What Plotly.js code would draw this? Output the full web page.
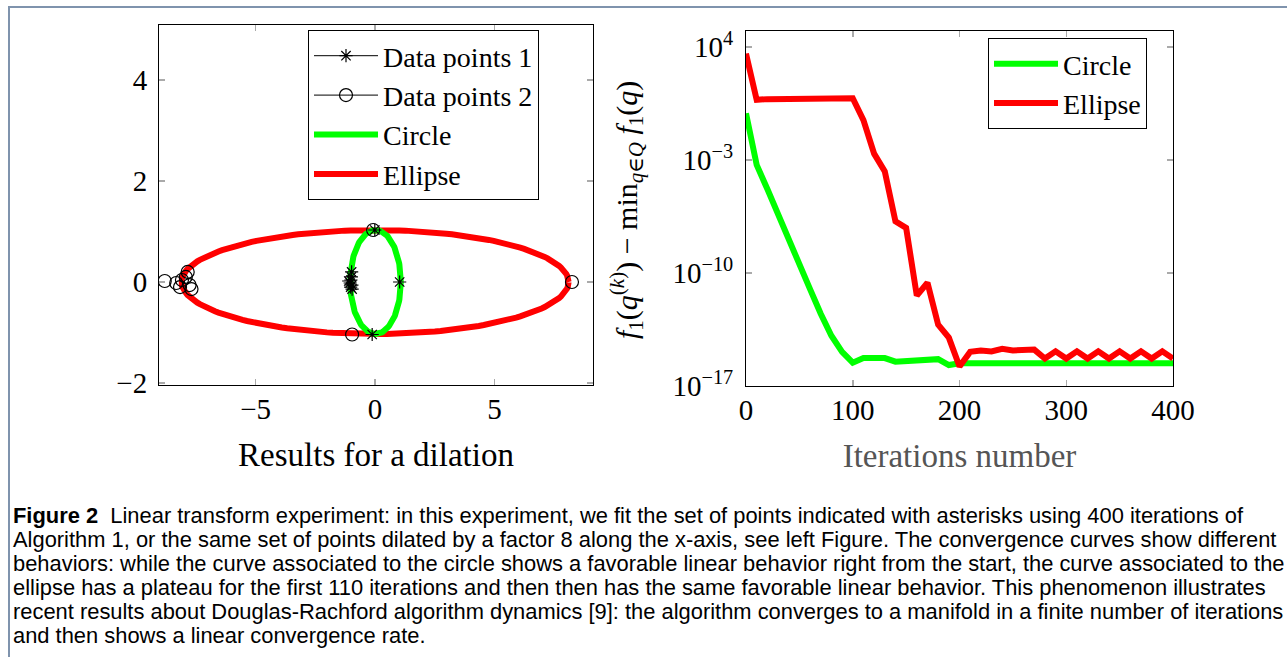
<!DOCTYPE html>
<html>
<head>
<meta charset="utf-8">
<script src="https://cdn.plot.ly/plotly-3.0.1.min.js"></script>
<style>html,body{margin:0;padding:0;background:#fff;}#chart{width:1287px;height:657px;}</style>
</head>
<body>
<div id="chart"></div>
<script>
// ---- Left panel data ----
const points1X = [-1.10, -0.98, -1.04, -0.96, -1.01, -0.97, -0.99, -1.02, 1.03, -0.01, -0.12];
const points1Y = [0.02, 0.20, -0.02, -0.14, 0.04, -0.06, 0.10, -0.10, 0.00, 1.03, -1.04];
const points2X = [-8.80, -7.84, -8.32, -7.68, -8.08, -7.76, -7.92, -8.16, 8.24, -0.08, -0.96];
const points2Y = [0.02, 0.20, -0.02, -0.14, 0.04, -0.06, 0.10, -0.10, 0.00, 1.03, -1.04];
const circleCenter = [0.02, 0.0];
const circleRadii = [1.06, 1.03];
const ellipseCenter = [0.0, 0.0];
const ellipseRadii = [8.1, 1.03];

// ---- Right panel data ----
const iterations = [0,10,20,30,40,50,60,70,80,90,100,110,120,130,140,150,160,170,180,190,200,
  210,220,230,240,250,260,270,280,290,300,310,320,330,340,350,360,370,380,390,400];
const circleErr = [8e-1,5e-4,1.6e-5,4e-7,1.3e-8,4e-10,1e-11,3e-13,1.3e-14,1.3e-15,2.8e-16,
  5.4e-16,5.4e-16,5.4e-16,3.2e-16,3.6e-16,4.0e-16,4.2e-16,4.6e-16,2.0e-16,2.6e-16,
  2.6e-16,2.6e-16,2.6e-16,2.6e-16,2.6e-16,2.6e-16,2.6e-16,2.6e-16,2.6e-16,2.6e-16,
  2.6e-16,2.6e-16,2.6e-16,2.6e-16,2.6e-16,2.6e-16,2.6e-16,2.6e-16,2.6e-16,2.6e-16];
const ellipseErr = [4.0e3,5.4,6.0,6.0,6.0,6.1,6.2,6.3,6.4,6.6,6.9,
  3.0e-1,2.5e-3,2.0e-4,1.6e-7,6.3e-8,4.0e-12,2.5e-11,6.3e-14,1.0e-14,1.6e-16,
  1.3e-15,1.6e-15,1.4e-15,2.0e-15,1.6e-15,1.6e-15,1.8e-15,5.0e-16,1.4e-15,5.0e-16,
  1.4e-15,5.0e-16,1.4e-15,5.0e-16,1.4e-15,5.0e-16,1.4e-15,5.0e-16,1.4e-15,5.0e-16];
const yTickVals = [1e-17, 1e-10, 1e-3, 1e4];
const yTickText = ['10<sup>−17</sup>', '10<sup>−10</sup>', '10<sup>−3</sup>', '10<sup>4</sup>'];

const captionLines = [
  '<b>Figure 2</b>  Linear transform experiment: in this experiment, we fit the set of points indicated with asterisks using 400 iterations of',
  'Algorithm 1, or the same set of points dilated by a factor 8 along the x-axis, see left Figure. The convergence curves show different',
  'behaviors: while the curve associated to the circle shows a favorable linear behavior right from the start, the curve associated to the',
  'ellipse has a plateau for the first 110 iterations and then then has the same favorable linear behavior. This phenomenon illustrates',
  'recent results about Douglas-Rachford algorithm dynamics [9]: the algorithm converges to a manifold in a finite number of iterations',
  'and then shows a linear convergence rate.'
];

const W = 1287, H = 657;
const fx = p => p / W;
const fy = p => 1 - p / H;

function conic(c, r) {
  const xs = [], ys = [];
  for (let i = 0; i <= 200; i++) {
    const t = 2 * Math.PI * i / 200;
    xs.push(c[0] + r[0] * Math.cos(t));
    ys.push(c[1] + r[1] * Math.sin(t));
  }
  return {xs, ys};
}
const circ = conic(circleCenter, circleRadii);
const ell = conic(ellipseCenter, ellipseRadii);

const serif = 'Liberation Serif, DejaVu Serif, serif';
const GREEN = '#00ff00', RED = '#ff0000';

const traces = [
  {x: ell.xs, y: ell.ys, mode: 'lines', name: 'Ellipse', line: {color: RED, width: 6}, legend: 'legend', legendrank: 4, xaxis: 'x', yaxis: 'y'},
  {x: circ.xs, y: circ.ys, mode: 'lines', name: 'Circle', line: {color: GREEN, width: 6}, legend: 'legend', legendrank: 3, xaxis: 'x', yaxis: 'y'},
  {x: points2X, y: points2Y, mode: 'markers', name: 'Data points 2', showlegend: false,
   marker: {symbol: 'circle-open', size: 13, color: 'black', line: {width: 1.2, color: 'black'}}, xaxis: 'x', yaxis: 'y'},
  {x: points1X, y: points1Y, mode: 'markers', name: 'Data points 1', showlegend: false,
   marker: {symbol: 'asterisk-open', size: 11, color: 'black', line: {width: 1.2, color: 'black'}}, xaxis: 'x', yaxis: 'y'},
  // legend entries (line + marker) for the data points
  {x: [null], y: [null], mode: 'lines+markers', name: 'Data points 1', legend: 'legend', legendrank: 1,
   line: {color: 'black', width: 1}, marker: {symbol: 'asterisk-open', size: 11, color: 'black', line: {width: 1.2, color: 'black'}}, xaxis: 'x', yaxis: 'y'},
  {x: [null], y: [null], mode: 'lines+markers', name: 'Data points 2', legend: 'legend', legendrank: 2,
   line: {color: 'black', width: 1}, marker: {symbol: 'circle-open', size: 13, color: 'black', line: {width: 1.2, color: 'black'}}, xaxis: 'x', yaxis: 'y'},
  // right panel
  {x: iterations, y: circleErr, mode: 'lines', name: 'Circle', line: {color: GREEN, width: 6}, legend: 'legend2', xaxis: 'x2', yaxis: 'y2'},
  {x: iterations, y: ellipseErr, mode: 'lines', name: 'Ellipse', line: {color: RED, width: 6}, legend: 'legend2', xaxis: 'x2', yaxis: 'y2'}
];

const axBase = {
  showline: true, linecolor: 'black', linewidth: 1, mirror: 'ticks',
  ticks: 'inside', ticklen: 6, tickcolor: '#aaaaaa', tickwidth: 1.5,
  showgrid: false, zeroline: false, automargin: false,
  tickfont: {family: serif, size: 29, color: 'black'}
};

const annotations = captionLines.map((t, i) => ({
  xref: 'paper', yref: 'paper', x: fx(11), y: fy(515 + i * 24),
  xanchor: 'left', yanchor: 'middle', showarrow: false, align: 'left',
  text: t, font: {family: 'Liberation Sans, Arial, sans-serif', size: 21.9, color: 'black'}
}));
annotations.push({
  xref: 'paper', yref: 'paper', x: fx(626), y: fy(210), xanchor: 'center', yanchor: 'middle',
  textangle: -90, showarrow: false,
  text: '<i>f</i><sub>1</sub>(<i>q</i><sup>(<i>k</i>)</sup>) − min<sub><i>q</i>∈<i>Q</i></sub> <i>f</i><sub>1</sub>(<i>q</i>)',
  font: {family: serif, size: 30, color: 'black'}
});

const layout = {
  width: W, height: H,
  margin: {l: 0, r: 0, t: 0, b: 0},
  paper_bgcolor: 'white', plot_bgcolor: 'white',
  font: {family: serif, color: 'black'},
  xaxis: Object.assign({}, axBase, {domain: [fx(159), fx(593)], range: [-9.04, 9.12], tickvals: [-5, 0, 5],
    anchor: 'y', ticklabelstandoff: -2,
    title: {text: 'Results for a dilation', font: {family: serif, size: 33, color: 'black'}, standoff: 19}}),
  yaxis: Object.assign({}, axBase, {domain: [fy(385), fy(25)], range: [-2.04, 5.09], tickvals: [-2, 0, 2, 4],
    anchor: 'x', ticklabelstandoff: 5}),
  xaxis2: Object.assign({}, axBase, {domain: [fx(746), fx(1173)], range: [0, 400], tickvals: [0, 100, 200, 300, 400],
    anchor: 'y2', ticklabelstandoff: -2,
    title: {text: 'Iterations number', font: {family: serif, size: 33, color: '#555555'}, standoff: 19}}),
  yaxis2: Object.assign({}, axBase, {domain: [fy(386), fy(31)], type: 'log', range: [-17, 5],
    tickvals: yTickVals, ticktext: yTickText, anchor: 'x2', ticklabelstandoff: 6}),
  legend: {x: fx(308), y: fy(30), xanchor: 'left', yanchor: 'top', bgcolor: 'white',
    bordercolor: 'black', borderwidth: 1, itemwidth: 64, traceorder: 'normal', tracegroupgap: 0,
    font: {family: serif, size: 28, color: 'black'}},
  legend2: {x: fx(988), y: fy(38), xanchor: 'left', yanchor: 'top', bgcolor: 'white',
    bordercolor: 'black', borderwidth: 1, itemwidth: 64, traceorder: 'normal', tracegroupgap: 0,
    font: {family: serif, size: 28, color: 'black'}},
  annotations: annotations,
  shapes: [{type: 'path', xref: 'paper', yref: 'paper',
    path: `M ${fx(9)} 0 L ${fx(9)} ${fy(7)} L 1 ${fy(7)}`,
    line: {color: '#7f93ad', width: 2}}]
};

Plotly.newPlot('chart', traces, layout, {displayModeBar: false, staticPlot: true});
</script>
</body>
</html>
